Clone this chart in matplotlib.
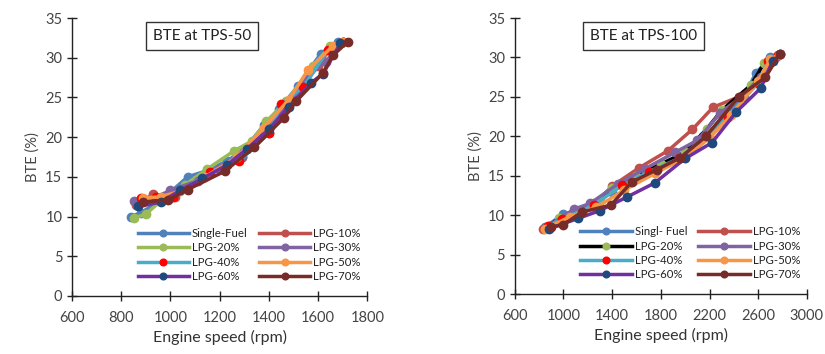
import matplotlib
matplotlib.use("Agg")
import matplotlib.pyplot as plt

plt.rcParams['font.family'] = ['Lato', 'DejaVu Sans']

labels_left = ["Single-Fuel", "LPG-10%", "LPG-20%", "LPG-30%",
               "LPG-40%", "LPG-50%", "LPG-60%", "LPG-70%"]
labels_right = ["Singl- Fuel", "LPG-10%", "LPG-20%", "LPG-30%",
                "LPG-40%", "LPG-50%", "LPG-60%", "LPG-70%"]

# line colour, marker colour for each series
line_colors_left = ["#4F81BD", "#C0504D", "#9BBB59", "#8064A2",
                    "#4BACC6", "#F79646", "#7030A0", "#772C2A"]
marker_colors_left = ["#4F81BD", "#C0504D", "#9BBB59", "#8064A2",
                      "#FF0000", "#F79646", "#1F497D", "#772C2A"]
line_colors_right = ["#4F81BD", "#C0504D", "#000000", "#8064A2",
                     "#4BACC6", "#F79646", "#7030A0", "#772C2A"]
marker_colors_right = marker_colors_left

# ---- TPS-50 data (engine speed rpm, BTE %) ----
tps50_speed = [
    [840, 880, 960, 1070, 1150, 1230, 1300, 1380, 1440, 1520, 1610, 1680],
    [860, 930, 1020, 1100, 1200, 1290, 1400, 1470, 1540, 1600, 1650, 1700],
    [850, 900, 980, 1060, 1150, 1260, 1330, 1390, 1470, 1580, 1650],
    [850, 910, 1000, 1110, 1200, 1290, 1390, 1490, 1550, 1630, 1700],
    [880, 940, 1010, 1160, 1280, 1400, 1450, 1540, 1640, 1700],
    [890, 960, 1040, 1140, 1270, 1380, 1480, 1560, 1660, 1700],
    [870, 960, 1040, 1130, 1230, 1310, 1400, 1480, 1570, 1620, 1690],
    [890, 990, 1070, 1220, 1340, 1460, 1510, 1620, 1660, 1720],
]
tps50_bte = [
    [10.0, 10.5, 12.0, 15.0, 15.8, 17.0, 18.5, 21.5, 23.5, 26.5, 30.5, 32.0],
    [11.5, 12.8, 12.5, 14.5, 16.0, 17.5, 20.5, 23.5, 26.5, 29.0, 31.2, 32.0],
    [9.8, 10.3, 12.5, 14.0, 16.0, 18.3, 19.5, 22.0, 24.5, 29.0, 31.5],
    [12.0, 12.0, 13.3, 14.5, 16.0, 17.5, 21.0, 24.5, 27.5, 29.5, 32.0],
    [12.3, 12.5, 12.5, 15.6, 17.0, 20.5, 24.2, 26.3, 31.0, 32.0],
    [12.3, 12.5, 13.2, 15.0, 17.5, 21.2, 24.7, 28.5, 31.5, 32.0],
    [11.3, 11.8, 13.3, 14.8, 16.5, 18.5, 21.0, 23.8, 26.8, 28.0, 31.8],
    [11.8, 12.1, 13.4, 15.7, 18.7, 22.4, 24.5, 28.1, 30.3, 32.0],
]

# ---- TPS-100 data ----
tps100_speed = [
    [850, 1000, 1120, 1250, 1400, 1560, 1750, 1950, 2150, 2300, 2480, 2580, 2700],
    [830, 1000, 1080, 1240, 1400, 1620, 1860, 2060, 2230, 2440, 2600, 2720, 2780],
    [870, 960, 1100, 1300, 1400, 1600, 1800, 2000, 2180, 2300, 2540, 2650, 2760],
    [880, 1090, 1220, 1450, 1670, 1920, 2100, 2290, 2460, 2620, 2750],
    [870, 990, 1250, 1480, 1700, 1950, 2170, 2350, 2600, 2680, 2760],
    [850, 1050, 1270, 1500, 1750, 2000, 2200, 2380, 2600, 2700, 2770],
    [880, 1120, 1300, 1520, 1750, 2000, 2220, 2420, 2620, 2720, 2780],
    [900, 1000, 1150, 1390, 1560, 1770, 1960, 2170, 2440, 2660, 2780],
]
tps100_bte = [
    [8.5, 10.2, 10.5, 11.5, 13.0, 14.5, 16.0, 17.5, 20.0, 22.0, 25.0, 28.0, 30.0],
    [8.3, 9.5, 10.3, 11.2, 13.7, 16.0, 18.2, 20.9, 23.7, 25.0, 27.0, 29.5, 30.5],
    [8.5, 9.6, 10.5, 12.0, 13.5, 15.0, 16.5, 18.0, 21.0, 23.3, 26.5, 29.3, 30.3],
    [8.7, 10.8, 11.5, 14.0, 15.9, 18.0, 19.5, 23.0, 25.0, 27.5, 30.0],
    [8.6, 9.5, 11.3, 13.8, 15.5, 17.2, 20.0, 22.5, 26.8, 29.5, 30.3],
    [8.3, 9.8, 11.0, 13.2, 15.3, 17.3, 19.8, 22.7, 27.0, 29.8, 30.3],
    [8.3, 9.6, 10.6, 12.3, 14.1, 17.2, 19.2, 23.1, 26.1, 29.5, 30.4],
    [8.5, 8.8, 10.4, 11.3, 14.2, 15.8, 17.3, 20.0, 25.0, 27.5, 30.5],
]


def draw_panel(ax, speeds, btes, labels, lcols, mcols, title, xlim, xticks):
    for xs, ys, lab, lc, mc in zip(speeds, btes, labels, lcols, mcols):
        ax.plot(xs, ys, color=lc, lw=2.5, marker='o', ms=6,
                mfc=mc, mec=mc, label=lab)
    ax.set_xlim(*xlim)
    ax.set_ylim(0, 35)
    ax.set_xticks(xticks)
    ax.set_yticks(range(0, 36, 5))
    for s in ['top', 'right']:
        ax.spines[s].set_visible(False)
    for s in ['left', 'bottom']:
        ax.spines[s].set_color('#222222')
        ax.spines[s].set_linewidth(1.0)
    ax.tick_params(direction='inout', length=7, width=1.0,
                   labelsize=10.5, labelcolor='#444444', color='#222222')
    ax.tick_params(axis='x', pad=7)
    ax.set_xlabel("Engine speed (rpm)", fontsize=11.5, color='#333333', labelpad=4)
    ax.set_ylabel("BTE (%)", fontsize=10.5, color='#444444', labelpad=4)
    ax.text(0.44, 0.935, title, transform=ax.transAxes, ha='center', va='center',
            fontsize=11, color='#222222',
            bbox=dict(boxstyle='square,pad=0.45', fc='white', ec='#333333', lw=1.0))
    # legend filled row by row, like the spreadsheet original
    h, l = ax.get_legend_handles_labels()
    order = [0, 2, 4, 6, 1, 3, 5, 7]
    leg = ax.legend([h[i] for i in order], [l[i] for i in order],
                    ncol=2, loc='lower right', bbox_to_anchor=(1.0, 0.025),
                    frameon=False, fontsize=8.2, handlelength=4.5,
                    columnspacing=1.0, labelspacing=0.3, handletextpad=0.25,
                    borderaxespad=0.2, markerscale=0.8)
    for t in leg.get_texts():
        t.set_color('#222222')


fig = plt.figure(figsize=(8.25, 3.54), dpi=100)
ax1 = fig.add_axes([0.0873, 0.164, 0.358, 0.785])
ax2 = fig.add_axes([0.624, 0.169, 0.354, 0.780])

draw_panel(ax1, tps50_speed, tps50_bte, labels_left, line_colors_left,
           marker_colors_left, "BTE at TPS-50", (600, 1800),
           range(600, 1801, 200))
draw_panel(ax2, tps100_speed, tps100_bte, labels_right, line_colors_right,
           marker_colors_right, "BTE at TPS-100", (600, 3000),
           range(600, 3001, 400))

fig.savefig("out.png", dpi=100)
